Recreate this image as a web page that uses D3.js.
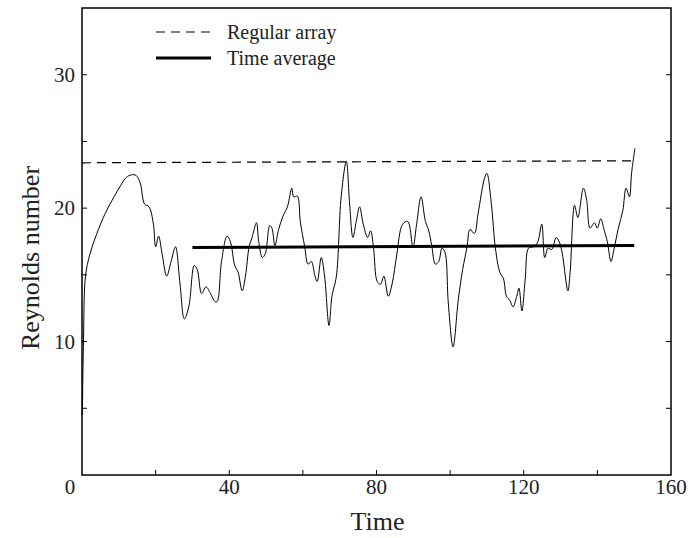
<!DOCTYPE html>
<html>
<head>
<meta charset="utf-8">
<script src="https://cdn.jsdelivr.net/npm/d3@7"></script>
<style>
  body { margin: 0; background: #fff; }
  text { font-family: "Liberation Serif", "DejaVu Serif", serif; fill: #222; }
</style>
</head>
<body>
<div id="chart"></div>
<script>
// time series
const time = [0.1, 0.4, 0.95, 2.1, 3.9, 6.3, 8.7, 10.5, 12, 13.5, 14.7, 15.8, 17, 18.2, 19.4, 20, 20.8,
  21.8, 23, 24.2, 25.4, 26.6, 27.8, 29, 30.5, 31.3, 32.5, 33.7, 34.9, 36.1, 36.7, 37.9, 39.4,
  40.3, 41.5, 42.4, 43.5, 44.4, 45.4, 46.2, 47.4, 48, 49, 49.8, 51, 51.6, 52.4, 53.4, 54.6,
  55.8, 57, 57.5, 58.5, 59.3, 60.5, 61.4, 62.3, 63.3, 63.9, 65, 65.9, 67.1, 67.9, 69.1, 70.4,
  71.8, 72.7, 73.6, 74.5, 75.4, 76.4, 77.6, 78.4, 79.2, 80.2, 81.1, 82, 83.2, 84.3, 85.5, 87.1,
  88.5, 89.9, 90.9, 92.1, 93.3, 94.2, 95, 96, 96.9, 97.8, 98.6, 99.5, 100.8, 102.2, 103.4, 104.6,
  105.4, 106.6, 107.6, 109.4, 110, 111.2, 112.3, 113.5, 114.5, 115.3, 116.2, 117.1, 118.1, 118.7,
  119.5, 120.4, 121.3, 122.5, 123.7, 124.9, 125.7, 126.6, 127.6, 128.8, 129.6, 130.4, 132, 132.6,
  133.8, 134.7, 136.2, 137.1, 138, 139.2, 140, 140.9, 141.9, 142.7, 143.7, 144.5, 145.7, 146.9,
  147.8, 148.7, 149.3, 150.2];
const reynolds = [4.5, 10, 14.9, 16.5, 18.0, 19.6, 20.85, 21.7, 22.3, 22.5, 22.45, 21.9, 20.3, 20.1, 18.8, 17.1, 17.9,
  16.5, 14.9, 16.0, 17.1, 14.4, 11.7, 12.6, 15.7, 15.4, 13.6, 14.1, 13.6, 13.0, 13.0, 16.0, 17.9,
  17.5, 15.7, 15.2, 13.8, 14.9, 17.1, 17.8, 18.9, 17.5, 16.3, 16.6, 18.7, 18.5, 17.2, 18.4, 19.4,
  20.1, 21.5, 20.85, 20.9, 19.0, 17.1, 15.8, 16.0, 14.9, 14.5, 16.3, 14.9, 11.2, 13.4, 14.9, 20.85,
  23.5, 20.3, 17.8, 19.0, 20.1, 18.8, 17.8, 18.3, 17.0, 14.5, 14.3, 14.9, 13.4, 14.4, 16.5, 18.8,
  19.0, 17.1, 18.8, 20.85, 19.0, 18.3, 17.2, 15.8, 16.0, 17.0, 16.7, 12.9, 9.6, 13.1, 15.4, 17.1,
  18.4, 18.1, 19.6, 22.3, 22.6, 20.3, 17.0, 15.2, 14.7, 13.4, 13.1, 12.6, 13.4, 14.0,
  12.3, 14.7, 17.0, 17.1, 17.4, 18.8, 16.3, 17.0, 16.9, 17.8, 17.5, 16.7, 13.8, 15.2,
  20.2, 19.3, 21.5, 20.6, 18.5, 18.9, 18.5, 19.2, 18.3, 17.5, 16.0, 16.9, 18.5, 19.8,
  21.5, 20.85, 22.65, 24.5];

// reference levels
const regularT = [0, 150];
const regularRe = [23.4, 23.55];
const averageT = [30, 150];
const averageRe = [17.05, 17.2];

const xTickLabels = [0, 40, 80, 120, 160];
const yTickLabels = [10, 20, 30];
const legendNames = ["Regular array", "Time average"];

const width = 688, height = 538;
const margin = { top: 8, right: 17, bottom: 63, left: 82 };

const svg = d3.select("#chart").append("svg")
  .attr("width", width)
  .attr("height", height);

const x = d3.scaleLinear().domain([0, 160]).range([margin.left, width - margin.right]);
const y = d3.scaleLinear().domain([0, 35]).range([height - margin.bottom, margin.top]);

const line = d3.line().x(d => x(d[0])).y(d => y(d[1]));
const smooth = d3.line().x(d => x(d[0])).y(d => y(d[1])).curve(d3.curveCatmullRom.alpha(0.5));

// frame
svg.append("rect")
  .attr("x", x(0)).attr("y", y(35))
  .attr("width", x(160) - x(0)).attr("height", y(0) - y(35))
  .attr("fill", "none").attr("stroke", "#000").attr("stroke-width", 1.5);

// inward ticks
const tickLen = 5;
const yTicks = d3.range(5, 35, 5);
svg.append("g").selectAll("line").data(yTicks).join("line")
  .attr("x1", x(0)).attr("x2", x(0) + tickLen)
  .attr("y1", d => y(d)).attr("y2", d => y(d))
  .attr("stroke", "#000");
svg.append("g").selectAll("line").data(yTicks).join("line")
  .attr("x1", x(160)).attr("x2", x(160) - tickLen)
  .attr("y1", d => y(d)).attr("y2", d => y(d))
  .attr("stroke", "#000");
const xTicks = d3.range(20, 160, 20);
svg.append("g").selectAll("line").data(xTicks).join("line")
  .attr("x1", d => x(d)).attr("x2", d => x(d))
  .attr("y1", y(0)).attr("y2", y(0) - tickLen)
  .attr("stroke", "#000");

// tick labels
svg.append("g").selectAll("text").data(xTickLabels).join("text")
  .attr("x", d => x(d))
  .attr("dx", d => d === 0 ? -12 : 0)
  .attr("y", y(0) + 19)
  .attr("text-anchor", "middle")
  .style("font-size", "21px")
  .text(d => d);
svg.append("g").selectAll("text").data(yTickLabels).join("text")
  .attr("x", x(0) - 7)
  .attr("y", d => y(d) + 7)
  .attr("text-anchor", "end")
  .style("font-size", "21px")
  .text(d => d);

// axis titles
svg.append("text")
  .attr("x", (x(0) + x(160)) / 2 + 1)
  .attr("y", 530)
  .attr("text-anchor", "middle")
  .style("font-size", "26px")
  .text("Time");
svg.append("text")
  .attr("transform", "translate(39,258) rotate(-90)")
  .attr("text-anchor", "middle")
  .style("font-size", "26px")
  .text("Reynolds number");

// reference lines
svg.append("path")
  .datum(d3.zip(regularT, regularRe))
  .attr("d", line)
  .attr("fill", "none").attr("stroke", "#000")
  .attr("stroke-width", 1.2).attr("stroke-dasharray", "9,6");
svg.append("path")
  .datum(d3.zip(averageT, averageRe))
  .attr("d", line)
  .attr("fill", "none").attr("stroke", "#000")
  .attr("stroke-width", 3);

// the Reynolds number trace
svg.append("path")
  .datum(d3.zip(time, reynolds))
  .attr("d", smooth)
  .attr("fill", "none").attr("stroke", "#000")
  .attr("stroke-width", 1)
  .attr("stroke-linejoin", "round");

// legend
const legend = svg.append("g");
legendNames.forEach((name, i) => {
  const ly = 32 + i * 26;
  legend.append("line")
    .attr("x1", 156).attr("x2", 211)
    .attr("y1", ly).attr("y2", ly)
    .attr("stroke", "#000")
    .attr("stroke-width", i === 0 ? 1.2 : 3)
    .attr("stroke-dasharray", i === 0 ? "9,6" : null);
  legend.append("text")
    .attr("x", 227).attr("y", ly + 7)
    .style("font-size", "20px")
    .text(name);
});
</script>
</body>
</html>
